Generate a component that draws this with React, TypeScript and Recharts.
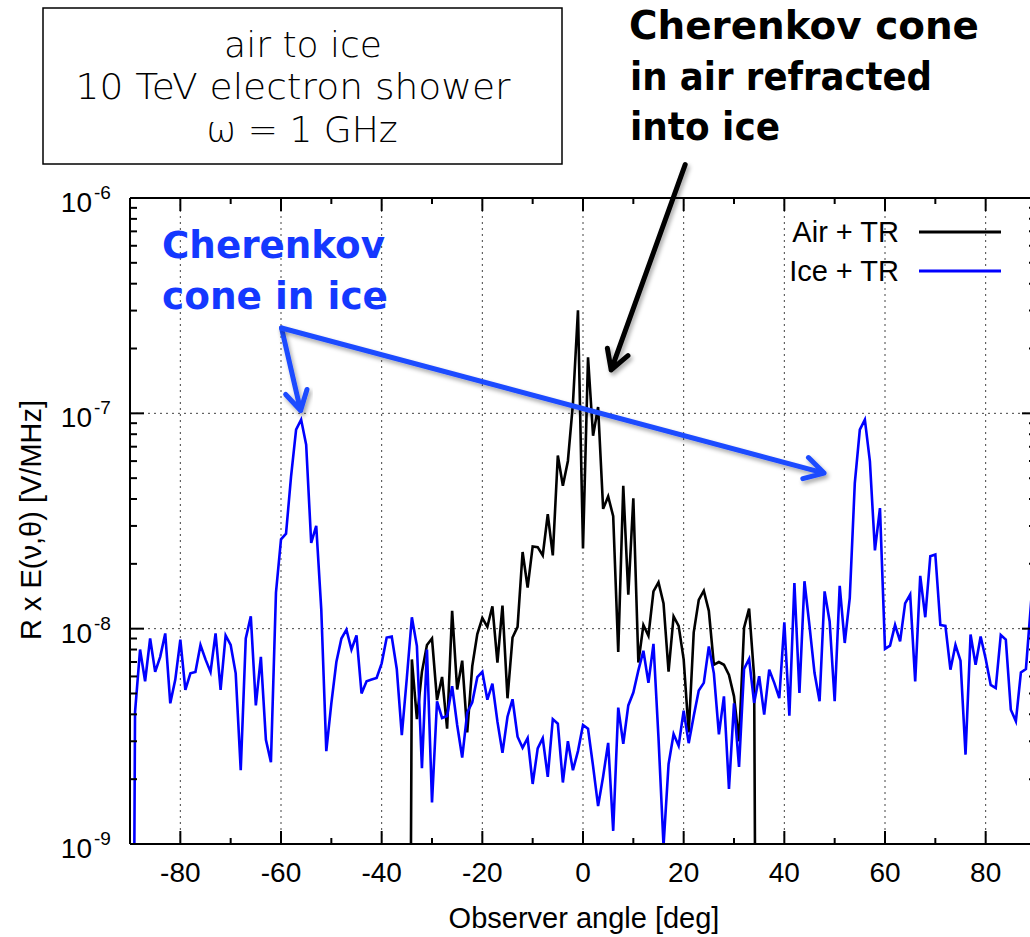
import {
  LineChart,
  Line,
  XAxis,
  YAxis,
  CartesianGrid,
  ReferenceLine,
  Legend,
} from 'recharts';

// observer angle in degrees, one sample per degree
const angles = Array.from({ length: 181 }, (_, i) => i - 90);

// Ice + TR, -90 .. 90 deg  [V/MHz]
const iceTR = [
  1e-13, 4.1e-9, 8.0e-9, 5.7e-9, 9.0e-9, 6.3e-9, 7.4e-9, 9.5e-9, 4.5e-9, 5.8e-9,
  8.9e-9, 5.2e-9, 6.2e-9, 6.3e-9, 8.4e-9, 7.2e-9, 6.3e-9, 9.5e-9, 5.2e-9, 9.3e-9,
  8.4e-9, 6.2e-9, 2.2e-9, 9.0e-9, 1.14e-8, 4.4e-9, 7.4e-9, 3.05e-9, 2.4e-9, 1.47e-8,
  2.6e-8, 2.76e-8, 5.1e-8, 8.4e-8, 9.35e-8, 7.15e-8, 2.5e-8, 3.0e-8, 1.23e-8, 2.7e-9,
  4.5e-9, 7.0e-9, 9.0e-9, 9.9e-9, 8.0e-9, 9.3e-9, 5.0e-9, 5.7e-9, 5.8e-9, 5.9e-9,
  6.9e-9, 9.1e-9, 9.2e-9, 6.5e-9, 3.2e-9, 5.9e-9, 1.13e-8, 8.3e-9, 2.25e-9, 8.0e-9,
  1.56e-9, 4.6e-9, 3.85e-9, 3.93e-9, 5.4e-9, 3.57e-9, 2.52e-9, 4.08e-9, 4.55e-9, 5.95e-9,
  6.3e-9, 4.68e-9, 5.55e-9, 3.7e-9, 2.65e-9, 3.9e-9, 4.7e-9, 3.15e-9, 2.8e-9, 3.1e-9,
  1.9e-9, 2.78e-9, 3.1e-9, 2.05e-9, 3.8e-9, 3.62e-9, 1.93e-9, 3.0e-9, 2.2e-9, 2.7e-9,
  3.57e-9, 3.43e-9, 2.3e-9, 1.5e-9, 2.06e-9, 2.95e-9, 1.15e-9, 4.3e-9, 2.92e-9, 4.4e-9,
  5.05e-9, 6.4e-9, 7.9e-9, 5.6e-9, 8.5e-9, 3.1e-9, 9.8e-10, 2.35e-9, 3.24e-9, 2.86e-9,
  4.16e-9, 2.94e-9, 3.93e-9, 5.16e-9, 5.6e-9, 8.26e-9, 6.2e-9, 3.23e-9, 4.85e-9, 1.8e-9,
  4.5e-9, 2.28e-9, 6.5e-9, 7.23e-9, 4.52e-9, 6.01e-9, 3.99e-9, 6.45e-9, 5.6e-9, 4.76e-9,
  1.07e-8, 3.94e-9, 1.63e-8, 5.03e-9, 1.66e-8, 1.03e-8, 6.22e-9, 4.6e-9, 1.49e-8, 1.08e-8,
  4.6e-9, 1.58e-8, 8.58e-9, 1.39e-8, 4.74e-8, 8.4e-8, 9.35e-8, 5.98e-8, 2.31e-8, 3.63e-8,
  8.05e-9, 8.34e-9, 1.04e-8, 8.73e-9, 1.31e-8, 1.44e-8, 5.69e-9, 1.76e-8, 1.13e-8, 2.17e-8,
  2.21e-8, 1.04e-8, 1.03e-8, 6.45e-9, 8.4e-9, 7.1e-9, 2.6e-9, 9.4e-9, 6.8e-9, 9.2e-9,
  7.25e-9, 5.48e-9, 5.3e-9, 9.35e-9, 8.9e-9, 4.2e-9, 3.72e-9, 6.26e-9, 6.5e-9, 1.3e-8,
  1.2e-8,
];

// Air + TR, -35 .. 35 deg  [V/MHz]
const airStart = -35;
const airTR = [
  1e-13, 7.2e-9, 3.8e-9, 6.3e-9, 8.4e-9, 9.0e-9, 4.66e-9, 5.97e-9, 3.43e-9, 1.21e-8,
  5.22e-9, 7.1e-9, 3.3e-9, 6.7e-9, 9.44e-9, 1.12e-8, 1.02e-8, 1.27e-8, 6.96e-9, 1.28e-8,
  4.75e-9, 9.1e-9, 1.02e-8, 2.27e-8, 1.55e-8, 2.41e-8, 2.39e-8, 2.19e-8, 3.4e-8, 2.19e-8,
  6.37e-8, 4.61e-8, 6.01e-8, 1.11e-7, 3.01e-7, 2.36e-8, 1.82e-7, 7.87e-8, 1.07e-7, 3.6e-8,
  4.11e-8, 3.33e-8, 7.8e-9, 4.61e-8, 1.44e-8, 4.03e-8, 6.96e-9, 1.04e-8, 9.27e-9, 1.49e-8,
  1.64e-8, 1.31e-8, 6.32e-9, 1.14e-8, 1.03e-8, 7.2e-9, 3.3e-9, 9.62e-9, 1.36e-8, 1.5e-8,
  1.21e-8, 6.8e-9, 7.0e-9, 6.8e-9, 6.1e-9, 4.85e-9, 3.0e-9, 1.01e-8, 1.24e-8, 6.0e-9,
  1e-13,
];

const xTicks = [-90, -80, -70, -60, -50, -40, -30, -20, -10, 0, 10, 20, 30, 40, 50, 60, 70, 80, 90];
const xGrid = [-80, -60, -40, -20, 0, 20, 40, 60, 80];
const yDecades = [1e-9, 1e-8, 1e-7, 1e-6];
const yMinorSteps = [2, 3, 4, 5, 6, 7, 8, 9];
const yGrid = [1e-8, 1e-7];

// annotation arrows, in (angle, field) coordinates
const airConeArrow = [{ x: 20.3, y: 1.43e-6 }, { x: 5.6, y: 1.59e-7 }];
const iceConeArrows = [
  [{ x: -59.9, y: 2.49e-7 }, { x: -56.1, y: 1.03e-7 }],
  [{ x: -59.9, y: 2.49e-7 }, { x: 47.9, y: 5.28e-8 }],
];

const yTicks = yDecades.flatMap((d, i) =>
  i < yDecades.length - 1 ? [d, ...yMinorSteps.map((k) => k * d)] : [d],
);

const rows = angles.map((angle, i) => {
  const j = angle - airStart;
  return {
    angle,
    ice: iceTR[i],
    air: j >= 0 && j < airTR.length ? airTR[j] : null,
  };
});

const SANS = '"Liberation Sans", Arial, Helvetica, sans-serif';
const GOTHIC = '"DejaVu Sans", Verdana, sans-serif';
const ICE_BLUE = '#1438ff';

const isDecade = (v: number) => {
  const e = Math.round(Math.log10(v));
  return Math.abs(v - Math.pow(10, e)) < v * 1e-6;
};

const BottomTick = ({ x, y, payload }: any) => {
  const v = payload.value;
  const major = v % 20 === 0;
  return (
    <g>
      <line x1={x} x2={x} y1={y} y2={y - (major ? 13 : 6)} stroke="#000" strokeWidth={2} />
      {major && (
        <text x={x} y={y + 38} textAnchor="middle" fontSize={28} fontFamily={SANS} fill="#000">
          {v}
        </text>
      )}
    </g>
  );
};

const TopTick = ({ x, y, payload }: any) => {
  const major = payload.value % 20 === 0;
  return <line x1={x} x2={x} y1={y} y2={y + (major ? 13 : 6)} stroke="#000" strokeWidth={2} />;
};

const LeftTick = ({ x, y, payload }: any) => {
  const v = payload.value;
  const major = isDecade(v);
  const e = Math.round(Math.log10(v));
  return (
    <g>
      <line x1={x} x2={x + (major ? 14 : 7)} y1={y} y2={y} stroke="#000" strokeWidth={2} />
      {major && (
        <g fontFamily={SANS} fill="#000">
          <text x={92} y={y + 14} textAnchor="end" fontSize={28}>10</text>
          <text x={94} y={y + 1} fontSize={19}>{e}</text>
        </g>
      )}
    </g>
  );
};

const RightTick = ({ x, y, payload }: any) => {
  const major = isDecade(payload.value);
  return <line x1={x} x2={x - (major ? 14 : 7)} y1={y} y2={y} stroke="#000" strokeWidth={2} />;
};

const Arrow = ({ x1, y1, x2, y2, stroke, strokeWidth }: any) => {
  const a = Math.atan2(y2 - y1, x2 - x1);
  const len = 22;
  const spread = 0.52;
  const b1 = [x2 - len * Math.cos(a - spread), y2 - len * Math.sin(a - spread)];
  const b2 = [x2 - len * Math.cos(a + spread), y2 - len * Math.sin(a + spread)];
  return (
    <path
      d={`M${x1},${y1}L${x2},${y2}M${b1[0]},${b1[1]}L${x2},${y2}L${b2[0]},${b2[1]}`}
      stroke={stroke}
      strokeWidth={strokeWidth}
      fill="none"
      strokeLinecap="round"
      strokeLinejoin="round"
      filter="url(#arrowShadow)"
    />
  );
};

const LegendBox = ({ payload }: any) => (
  <svg width={270} height={80}>
    {(payload || []).map((p: any, i: number) => (
      <g key={p.value}>
        <text x={139} y={27 + i * 39} textAnchor="end" fontSize={29} fontFamily={SANS} fill="#000">
          {p.value}
        </text>
        <line x1={159} x2={241} y1={17 + i * 39} y2={17 + i * 39} stroke={p.color} strokeWidth={3} />
      </g>
    ))}
  </svg>
);

export default function App() {
  return (
    <div
      style={{
        position: 'absolute',
        left: 0,
        top: 0,
        width: 1030,
        height: 937,
        overflow: 'hidden',
        background: '#fff',
        fontFamily: SANS,
      }}
    >
      <LineChart width={1049} height={937} data={rows} margin={{ top: 197, right: 12, bottom: 0, left: 0 }}>
        <defs>
          <filter id="arrowShadow" x="-20%" y="-20%" width="140%" height="140%">
            <feDropShadow dx="2" dy="3" stdDeviation="2" floodColor="#000" floodOpacity="0.35" />
          </filter>
        </defs>

        <CartesianGrid
          xAxisId="b"
          yAxisId="l"
          verticalValues={xGrid}
          horizontalValues={yGrid}
          stroke="#444"
          strokeDasharray="2 4"
          strokeWidth={1}
        />

        <XAxis
          xAxisId="b"
          dataKey="angle"
          type="number"
          domain={[-90, 90]}
          ticks={xTicks}
          interval={0}
          height={93}
          tickSize={0}
          tickMargin={0}
          tickLine={false}
          axisLine={{ stroke: '#000', strokeWidth: 2 }}
          tick={BottomTick}
        />
        <XAxis
          xAxisId="t"
          orientation="top"
          dataKey="angle"
          type="number"
          domain={[-90, 90]}
          ticks={xTicks}
          interval={0}
          height={1}
          tickSize={0}
          tickMargin={0}
          tickLine={false}
          axisLine={{ stroke: '#000', strokeWidth: 2 }}
          tick={TopTick}
        />
        <YAxis
          yAxisId="l"
          type="number"
          scale="log"
          domain={[1e-9, 1e-6]}
          allowDataOverflow
          ticks={yTicks}
          interval={0}
          width={130}
          tickSize={0}
          tickMargin={0}
          tickLine={false}
          axisLine={{ stroke: '#000', strokeWidth: 2 }}
          tick={LeftTick}
        />
        <YAxis
          yAxisId="r"
          orientation="right"
          type="number"
          scale="log"
          domain={[1e-9, 1e-6]}
          allowDataOverflow
          ticks={yTicks}
          interval={0}
          width={1}
          tickSize={0}
          tickMargin={0}
          tickLine={false}
          axisLine={{ stroke: '#000', strokeWidth: 2 }}
          tick={RightTick}
        />

        <Line
          xAxisId="b"
          yAxisId="l"
          name="Air + TR"
          dataKey="air"
          type="linear"
          stroke="#000"
          strokeWidth={2.6}
          dot={false}
          activeDot={false}
          connectNulls={false}
          isAnimationActive={false}
        />
        <Line
          xAxisId="b"
          yAxisId="l"
          name="Ice + TR"
          dataKey="ice"
          type="linear"
          stroke="#0000ff"
          strokeWidth={2.6}
          dot={false}
          activeDot={false}
          isAnimationActive={false}
        />

        <ReferenceLine
          xAxisId="b"
          yAxisId="l"
          segment={airConeArrow}
          ifOverflow="visible"
          stroke="#000"
          strokeWidth={5}
          shape={Arrow}
        />
        {iceConeArrows.map((seg, i) => (
          <ReferenceLine
            key={i}
            xAxisId="b"
            yAxisId="l"
            segment={seg}
            ifOverflow="visible"
            stroke="#1f4bff"
            strokeWidth={5}
            shape={Arrow}
          />
        ))}

        <Legend
          layout="horizontal"
          verticalAlign="middle"
          align="center"
          wrapperStyle={{ position: 'absolute', left: 760, top: 215, width: 270, height: 80 }}
          content={LegendBox}
        />

        {/* run description box */}
        <rect x={43} y={8} width={519} height={156} fill="#fff" stroke="#000" strokeWidth={1.5} />
        <g fontFamily={GOTHIC} fontWeight={200} fontSize={36} fill="#000" textAnchor="middle">
          <text x={303} y={57}>air to ice</text>
          <text x={293} y={99} textLength={435} lengthAdjust="spacingAndGlyphs">10 TeV electron shower</text>
          <text x={302} y={142}>ω = 1 GHz</text>
        </g>

        {/* annotations */}
        <g fontFamily={GOTHIC} fontWeight="bold" fontSize={39} fill="#000">
          <text x={629} y={39} textLength={350} lengthAdjust="spacingAndGlyphs">Cherenkov cone</text>
          <text x={630} y={90} textLength={302} lengthAdjust="spacingAndGlyphs">in air refracted</text>
          <text x={630} y={140} textLength={150} lengthAdjust="spacingAndGlyphs">into ice</text>
        </g>
        <g fontFamily={GOTHIC} fontWeight="bold" fontSize={37} fill={ICE_BLUE}>
          <text x={162} y={258} textLength={223} lengthAdjust="spacingAndGlyphs">Cherenkov</text>
          <text x={162} y={309} textLength={226} lengthAdjust="spacingAndGlyphs">cone in ice</text>
        </g>

        {/* axis titles */}
        <text x={584} y={928} textAnchor="middle" fontSize={29} fontFamily={SANS} fill="#000">
          Observer angle [deg]
        </text>
        <text
          x={41}
          y={520}
          textAnchor="middle"
          fontSize={29}
          fontFamily={SANS}
          fill="#000"
          transform="rotate(-90, 41, 520)"
        >
          R x E(ν,θ) [V/MHz]
        </text>
      </LineChart>
    </div>
  );
}
